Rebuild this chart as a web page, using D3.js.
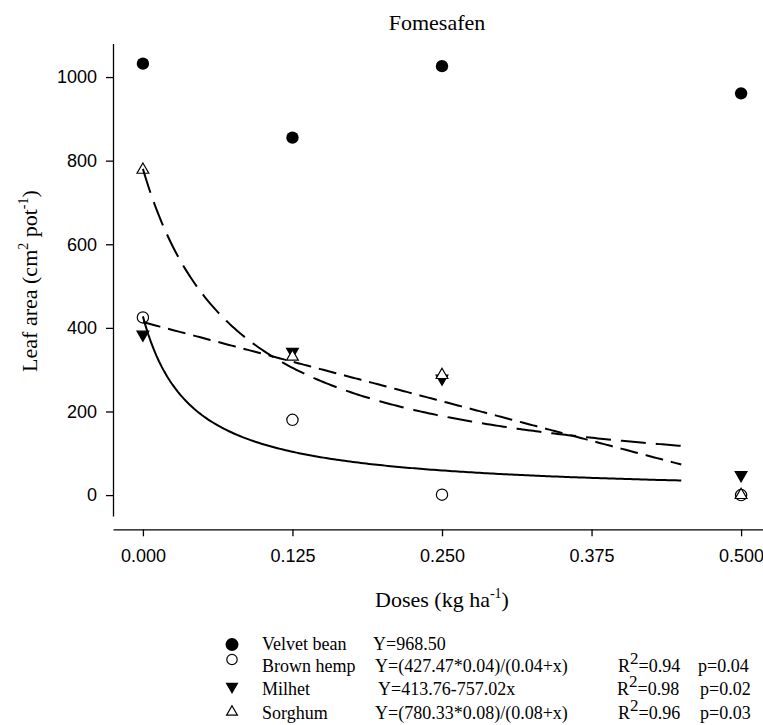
<!DOCTYPE html>
<html>
<head>
<meta charset="utf-8">
<script src="https://cdn.jsdelivr.net/npm/d3@7"></script>
<style>
  html, body { margin: 0; padding: 0; background: #fff; }
  svg { display: block; }
  .serif { font-family: "Liberation Serif", "Times New Roman", "DejaVu Serif", serif; }
  .sans { font-family: "Liberation Sans", Arial, "DejaVu Sans", sans-serif; }
</style>
</head>
<body>
<svg id="chart" width="763" height="725"></svg>
<script>
// Doses applied (kg ha-1)
const doses = [0, 0.125, 0.25, 0.5];
const xTicks = [0, 0.125, 0.25, 0.375, 0.5];
const yTicks = [0, 200, 400, 600, 800, 1000];

// Leaf area (cm2 pot-1) per species
const velvetBean = [1032, 855, 1026, 961];
const brownHemp = [425, 180, 1, 0];
const milhet = [384, 343, 279, 48];
const sorghum = [778, 331, 287, 0];

// Fitted models (parameters from the regression equations)
const hempFit = [427.47, 0.04];      // Y = (a*b)/(b+x)
const milhetFit = [413.76, -757.02]; // Y = a + b*x
const sorghumFit = [780.33, 0.08];   // Y = (a*b)/(b+x)
const fitRange = [0, 0.45];

const legendNames = ["Velvet bean", "Brown hemp", "Milhet", "Sorghum"];
const legendEquations = ["Y=968.50", "Y=(427.47*0.04)/(0.04+x)", "Y=413.76-757.02x", "Y=(780.33*0.08)/(0.08+x)"];
const legendR2 = [null, "0.94", "0.98", "0.96"];
const legendP = [null, "0.04", "0.02", "0.03"];

const svg = d3.select("#chart");

const x = d3.scaleLinear().domain([-0.025, 0.525]).range([113, 771]);
const y = d3.scaleLinear().domain([-50, 1080]).range([516, 43.6]);

// Axes
const yAxis = d3.axisLeft(y).tickValues(yTicks).tickFormat(d3.format("d"))
  .tickSize(7).tickSizeOuter(0).tickPadding(9);
const gy = svg.append("g").attr("transform", "translate(113,0)").call(yAxis);
const xAxis = d3.axisBottom(x).tickValues(xTicks).tickFormat(d3.format(".3f"))
  .tickSize(7).tickSizeOuter(0).tickPadding(13);
const gx = svg.append("g").attr("transform", "translate(0,529.3)").call(xAxis);
[gx, gy].forEach(g => {
  g.attr("font-family", null).attr("font-size", null).attr("class", "sans");
  g.selectAll("path, line").attr("stroke", "#000").attr("stroke-width", 1.3);
  g.selectAll("text").attr("font-size", 18).attr("fill", "#000");
});

// Title and axis labels
svg.append("text").attr("class", "serif").attr("x", 437).attr("y", 30).attr("text-anchor", "middle")
  .attr("font-size", 22).text("Fomesafen");

const xl = svg.append("text").attr("class", "serif").attr("x", 442).attr("y", 607)
  .attr("text-anchor", "middle").attr("font-size", 22);
xl.append("tspan").text("Doses (kg ha");
xl.append("tspan").attr("font-size", 14).attr("dy", -9).text("-1");
xl.append("tspan").attr("dy", 9).text(")");

const yl = svg.append("text").attr("class", "serif").attr("transform", "translate(37,281) rotate(-90)")
  .attr("text-anchor", "middle").attr("font-size", 22);
yl.append("tspan").text("Leaf area (cm");
yl.append("tspan").attr("font-size", 14).attr("dy", -9).text("2");
yl.append("tspan").attr("dy", 9).text(" pot");
yl.append("tspan").attr("font-size", 14).attr("dy", -9).text("-1");
yl.append("tspan").attr("dy", 9).text(")");

// Marker styles
const markers = {
  filledCircle: { type: d3.symbolCircle, size: 120, fill: "#000", stroke: "none", rot: 0 },
  openCircle: { type: d3.symbolCircle, size: 100, fill: "none", stroke: "#000", rot: 0 },
  downTriangle: { type: d3.symbolTriangle, size: 60, fill: "#000", stroke: "#000", rot: 180 },
  upTriangle: { type: d3.symbolTriangle, size: 60, fill: "#fff", stroke: "#000", rot: 0 }
};

function drawMarker(g, m, cx, cy, scale = 1) {
  g.append("path")
    .attr("d", d3.symbol().type(m.type).size(m.size * scale)())
    .attr("transform", `translate(${cx},${cy}) rotate(${m.rot})`)
    .attr("fill", m.fill).attr("stroke", m.stroke).attr("stroke-width", 1.2);
}

const series = [
  { values: velvetBean, marker: markers.filledCircle },
  { values: brownHemp, marker: markers.openCircle },
  { values: milhet, marker: markers.downTriangle },
  { values: sorghum, marker: markers.upTriangle }
];

const pts = svg.append("g");
series.forEach(s => {
  s.values.forEach((v, i) => drawMarker(pts, s.marker, x(doses[i]), y(v)));
});

// Fitted curves
const xs = d3.range(0, 201).map(i => fitRange[0] + (fitRange[1] - fitRange[0]) * i / 200);
const line = d3.line().x(d => x(d[0])).y(d => y(d[1]));
const curves = [
  { f: v => hempFit[0] * hempFit[1] / (hempFit[1] + v), dash: null },
  { f: v => milhetFit[0] + milhetFit[1] * v, dash: "18,8" },
  { f: v => sorghumFit[0] * sorghumFit[1] / (sorghumFit[1] + v), dash: "25,10" }
];
curves.forEach(c => {
  svg.append("path").attr("d", line(xs.map(v => [v, c.f(v)])))
    .attr("fill", "none").attr("stroke", "#000").attr("stroke-width", 2)
    .attr("stroke-dasharray", c.dash);
});

// Legend
const legendSymY = [644.5, 659.5, 686.5, 712];
const legendBase = [650, 672, 695, 719];
const eqX = [373, 375, 378, 375];
const r2X = [null, 618, 617, 618];
const pX = [null, 698, 700, 700];
const legendMarkers = [markers.filledCircle, markers.openCircle, markers.downTriangle, markers.upTriangle];
const leg = svg.append("g").attr("class", "serif").attr("font-size", 18);
legendNames.forEach((name, i) => {
  drawMarker(leg, legendMarkers[i], 232, legendSymY[i], i === 0 ? 1.1 : 0.85);
  leg.append("text").attr("x", 262).attr("y", legendBase[i]).text(name);
  leg.append("text").attr("x", eqX[i]).attr("y", legendBase[i]).text(legendEquations[i]);
  if (legendR2[i]) {
    const t = leg.append("text").attr("x", r2X[i]).attr("y", legendBase[i]);
    t.append("tspan").text("R");
    t.append("tspan").attr("font-size", 17).attr("dy", -8).text("2");
    t.append("tspan").attr("dy", 8).text("=" + legendR2[i]);
    leg.append("text").attr("x", pX[i]).attr("y", legendBase[i]).text("p=" + legendP[i]);
  }
});
</script>
</body>
</html>
